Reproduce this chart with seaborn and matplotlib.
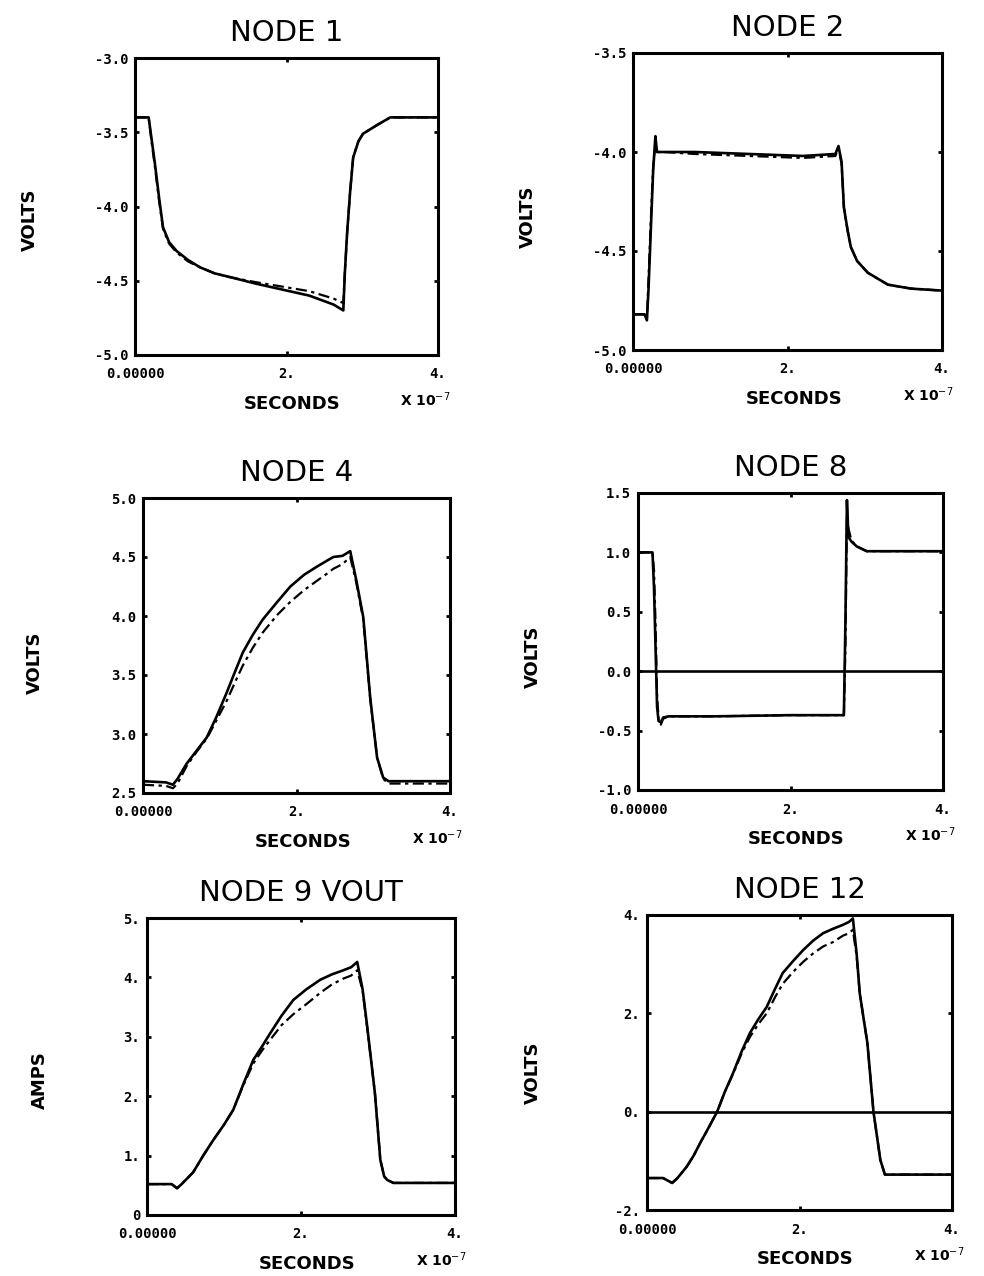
import matplotlib
matplotlib.use("Agg")
import matplotlib.pyplot as plt
import seaborn as sns

# time axis in units of 1e-7 s
n1_t = [0, 0.18, 0.22, 0.26, 0.32, 0.37, 0.45, 0.55, 0.7, 0.86, 1.05, 1.29, 1.6, 1.95, 2.3,
        2.62, 2.75, 2.77, 2.80, 2.84, 2.88, 2.95, 3.01, 3.2, 3.37, 3.7, 4.0]
n1_solid = [-3.40, -3.40, -3.55, -3.70, -3.95, -4.14, -4.24, -4.30, -4.36, -4.41, -4.45, -4.48,
            -4.52, -4.56, -4.60, -4.66, -4.70, -4.45, -4.18, -3.90, -3.67, -3.56, -3.51, -3.45,
            -3.40, -3.40, -3.40]
n1_dash = [-3.40, -3.40, -3.57, -3.72, -3.97, -4.15, -4.25, -4.31, -4.37, -4.41, -4.45, -4.48,
           -4.51, -4.54, -4.57, -4.62, -4.65, -4.45, -4.18, -3.90, -3.67, -3.56, -3.51, -3.45,
           -3.40, -3.40, -3.40]

n2_t = [0, 0.15, 0.18, 0.20, 0.23, 0.26, 0.29, 0.31, 0.40, 0.8, 1.5, 2.2, 2.62, 2.66, 2.70,
        2.73, 2.78, 2.82, 2.9, 3.04, 3.3, 3.6, 4.0]
n2_solid = [-4.82, -4.82, -4.85, -4.70, -4.40, -4.10, -3.92, -4.00, -4.00, -4.00, -4.01, -4.02,
            -4.01, -3.97, -4.05, -4.28, -4.40, -4.48, -4.55, -4.61, -4.67, -4.69, -4.70]
n2_dash = [-4.82, -4.82, -4.84, -4.65, -4.35, -4.08, -3.95, -4.00, -4.00, -4.01, -4.02, -4.03,
           -4.02, -3.98, -4.06, -4.28, -4.40, -4.48, -4.55, -4.61, -4.67, -4.69, -4.70]

n4_t = [0, 0.3, 0.39, 0.45, 0.57, 0.70, 0.83, 0.96, 1.09, 1.20, 1.30, 1.43, 1.56, 1.75, 1.92,
        2.10, 2.27, 2.40, 2.48, 2.60, 2.70, 2.78, 2.87, 2.96, 3.05, 3.13, 3.2, 3.6, 4.0]
n4_solid = [2.60, 2.59, 2.57, 2.62, 2.75, 2.86, 2.97, 3.15, 3.35, 3.53, 3.69, 3.84, 3.97, 4.12,
            4.25, 4.35, 4.42, 4.47, 4.50, 4.51, 4.55, 4.30, 3.99, 3.31, 2.80, 2.63, 2.60, 2.60, 2.60]
n4_dash = [2.57, 2.56, 2.54, 2.58, 2.73, 2.85, 2.96, 3.12, 3.28, 3.44, 3.58, 3.73, 3.86, 4.01,
           4.12, 4.22, 4.30, 4.36, 4.40, 4.44, 4.50, 4.28, 3.97, 3.30, 2.80, 2.62, 2.58, 2.58, 2.58]

n8_t = [0, 0.19, 0.21, 0.23, 0.25, 0.27, 0.30, 0.33, 0.40, 1.0, 2.0, 2.70, 2.72, 2.74, 2.76,
        2.80, 2.87, 3.0, 3.5, 4.0]
n8_solid = [1.00, 1.00, 0.70, 0.20, -0.30, -0.42, -0.43, -0.39, -0.38, -0.38, -0.37, -0.37,
            0.40, 1.44, 1.13, 1.09, 1.05, 1.01, 1.01, 1.01]
n8_dash = [1.00, 1.00, 0.85, 0.40, -0.20, -0.40, -0.45, -0.40, -0.38, -0.38, -0.37, -0.37,
           0.20, 1.30, 1.20, 1.10, 1.05, 1.01, 1.01, 1.01]

n9_t = [0, 0.32, 0.39, 0.45, 0.60, 0.73, 0.86, 1.00, 1.12, 1.25, 1.38, 1.50, 1.60, 1.75, 1.90,
        2.07, 2.25, 2.40, 2.55, 2.65, 2.73, 2.80, 2.86, 2.96, 3.03, 3.08, 3.12, 3.2, 3.6, 4.0]
n9_solid = [0.52, 0.52, 0.45, 0.52, 0.72, 1.00, 1.26, 1.52, 1.77, 2.20, 2.61, 2.85, 3.06, 3.36,
            3.62, 3.80, 3.96, 4.05, 4.12, 4.17, 4.26, 3.80, 3.17, 2.05, 0.93, 0.65, 0.59, 0.54,
            0.54, 0.54]
n9_dash = [0.52, 0.52, 0.45, 0.52, 0.72, 1.00, 1.26, 1.52, 1.77, 2.18, 2.55, 2.78, 2.95, 3.20,
           3.38, 3.55, 3.74, 3.88, 3.98, 4.03, 4.12, 3.78, 3.15, 2.05, 0.93, 0.65, 0.59, 0.54,
           0.54, 0.54]

n12_t = [0, 0.21, 0.27, 0.33, 0.40, 0.52, 0.61, 0.70, 0.81, 0.92, 1.02, 1.13, 1.24, 1.35, 1.46,
         1.57, 1.68, 1.78, 1.92, 2.05, 2.18, 2.31, 2.44, 2.57, 2.65, 2.70, 2.75, 2.79, 2.84, 2.89,
         2.97, 3.06, 3.12, 3.2, 3.6, 4.0]
n12_solid = [-1.35, -1.35, -1.40, -1.45, -1.35, -1.12, -0.90, -0.63, -0.32, 0.0, 0.40, 0.79,
             1.22, 1.60, 1.88, 2.13, 2.50, 2.82, 3.07, 3.29, 3.48, 3.63, 3.72, 3.80, 3.86, 3.93,
             3.20, 2.41, 1.90, 1.40, 0.0, -0.98, -1.28, -1.28, -1.28, -1.28]
n12_dash = [-1.35, -1.35, -1.40, -1.45, -1.35, -1.12, -0.90, -0.63, -0.32, 0.0, 0.40, 0.77,
            1.18, 1.52, 1.78, 2.00, 2.33, 2.60, 2.85, 3.05, 3.22, 3.36, 3.45, 3.58, 3.63, 3.70,
            3.15, 2.41, 1.90, 1.40, 0.0, -0.98, -1.28, -1.28, -1.28, -1.28]

titles = ["NODE 1", "NODE 2", "NODE 4", "NODE 8", "NODE 9 VOUT", "NODE 12"]
ylabels = ["VOLTS", "VOLTS", "VOLTS", "VOLTS", "AMPS", "VOLTS"]
yticks = [[-5, -4.5, -4, -3.5, -3], [-5, -4.5, -4, -3.5], [2.5, 3, 3.5, 4, 4.5, 5],
          [-1, -0.5, 0, 0.5, 1, 1.5], [0, 1, 2, 3, 4, 5], [-2, 0, 2, 4]]
yticklabels = [["-5.0", "-4.5", "-4.0", "-3.5", "-3.0"], ["-5.0", "-4.5", "-4.0", "-3.5"],
               ["2.5", "3.0", "3.5", "4.0", "4.5", "5.0"],
               ["-1.0", "-0.5", "0.0", "0.5", "1.0", "1.5"],
               ["0", "1.", "2.", "3.", "4.", "5."], ["-2.", "0.", "2.", "4."]]
xticks = [0, 2, 4]
xticklabels = ["0.00000", "2.", "4."]

series = [(n1_t, n1_solid, n1_dash), (n2_t, n2_solid, n2_dash), (n4_t, n4_solid, n4_dash),
          (n8_t, n8_solid, n8_dash), (n9_t, n9_solid, n9_dash), (n12_t, n12_solid, n12_dash)]
zero_line = [False, False, False, True, False, True]

# axes boxes in pixels: left, top, right, bottom ; ylabel pixel position
W, H = 984, 1276
boxes = [(135, 58, 438, 355), (633, 53, 942, 350), (143, 498, 450, 793),
         (638, 493, 943, 790), (147, 918, 455, 1215), (647, 915, 952, 1210)]
ylab_pos = [(30, 220), (528, 217), (35, 663), (533, 657), (40, 1080), (533, 1073)]

sns.set_theme(style="white", rc={"text.color": "black", "axes.labelcolor": "black",
                                  "xtick.color": "black", "ytick.color": "black"})
plt.rcParams["font.family"] = ["DejaVu Sans"]

fig = plt.figure(figsize=(W / 100, H / 100), dpi=100)
fig.patch.set_facecolor("white")

for i in range(6):
    l, t, r, b = boxes[i]
    ax = fig.add_axes([l / W, 1 - b / H, (r - l) / W, (b - t) / H])
    x, ys, yd = series[i]
    sns.lineplot(x=x, y=yd, ax=ax, color="black", lw=1.6, estimator=None, sort=False,
                 linestyle=(0, (5, 2, 1.5, 2)))
    sns.lineplot(x=x, y=ys, ax=ax, color="black", lw=1.9, estimator=None, sort=False)
    if zero_line[i]:
        ax.axhline(0, color="black", lw=1.9)
    ax.set_xlim(0, 4)
    ax.set_ylim(yticks[i][0], yticks[i][-1])
    ax.set_xticks(xticks)
    ax.set_xticklabels(xticklabels, family="DejaVu Sans Mono", fontweight="bold", fontsize=10)
    ax.set_yticks(yticks[i])
    ax.set_yticklabels(yticklabels[i], family="DejaVu Sans Mono", fontweight="bold", fontsize=10)
    ax.tick_params(axis="both", direction="in", length=3, width=2, color="black",
                   labelcolor="black", right=True, top=True, left=True, bottom=True)
    ax.tick_params(axis="x", pad=9)
    ax.tick_params(axis="y", pad=5)
    for s in ax.spines.values():
        s.set_color("black")
        s.set_linewidth(2.2)
    ax.set_xlabel("")
    ax.set_ylabel("")
    ax.set_title(titles[i], fontsize=21, pad=12, color="black")
    ax.text(0.52, -0.165, "SECONDS", transform=ax.transAxes, ha="center", va="center",
            fontsize=13, fontweight="bold", color="black")
    ax.text(0.875, -0.15, r"X 10$^{-7}$", transform=ax.transAxes, ha="left", va="center",
            fontsize=10, fontweight="bold", color="black")
    px, py = ylab_pos[i]
    fig.text(px / W, 1 - py / H, ylabels[i], rotation=90, ha="center", va="center",
             fontsize=13, fontweight="bold", color="black")

fig.savefig("out.png", dpi=100, facecolor="white")
